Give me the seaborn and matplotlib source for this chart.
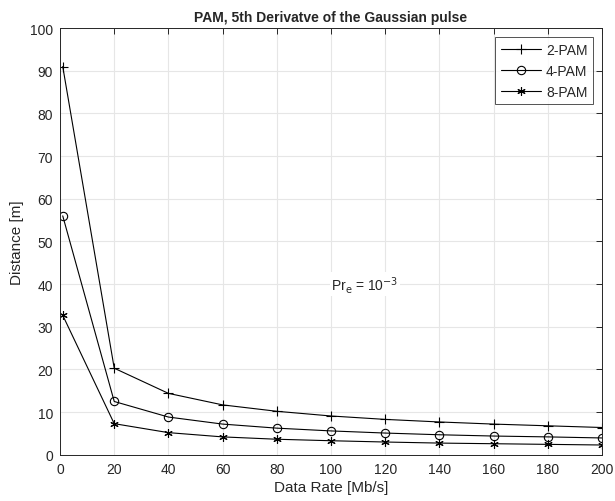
import matplotlib
matplotlib.use("Agg")
import matplotlib.pyplot as plt
import seaborn as sns
import pandas as pd

rate = [1, 20, 40, 60, 80, 100, 120, 140, 160, 180, 200]
pam2 = [91.0, 20.3, 14.4, 11.7, 10.2, 9.1, 8.3, 7.7, 7.2, 6.8, 6.4]
pam4 = [56.0, 12.5, 8.85, 7.2, 6.25, 5.6, 5.1, 4.7, 4.4, 4.2, 3.95]
pam8 = [32.7, 7.3, 5.2, 4.2, 3.65, 3.3, 3.0, 2.75, 2.6, 2.45, 2.3]
labels = ["2-PAM", "4-PAM", "8-PAM"]
xticks = list(range(0, 201, 20))
yticks = list(range(0, 101, 10))

sns.set_style("white")
plt.rcParams['font.family'] = ['Liberation Sans', 'DejaVu Sans']

fig = plt.figure(figsize=(6.15, 5.02), dpi=100)
ax = fig.add_axes([0.0976, 0.092, 0.8813, 0.850])

markers = ['+', 'o', (6, 2, 0)]
msizes = [7, 6, 6]
for vals, lab, m, ms in zip([pam2, pam4, pam8], labels, markers, msizes):
    df = pd.DataFrame({"rate": rate, "dist": vals})
    sns.lineplot(data=df, x="rate", y="dist", ax=ax, color='k', lw=0.8,
                 marker=m, markersize=ms, markerfacecolor='none',
                 markeredgecolor='k', markeredgewidth=0.8, label=lab)

ax.set_xlim(0, 200)
ax.set_ylim(0, 100)
ax.set_xticks(xticks)
ax.set_yticks(yticks)
ax.grid(True, color='#e6e6e6', lw=0.8)
ax.set_axisbelow(True)
ax.tick_params(direction='in', top=True, right=True, length=4.5, labelsize=10,
               colors='#262626', width=0.7, pad=5)
for s in ax.spines.values():
    s.set_color('#262626')
    s.set_linewidth(0.7)
ax.set_xlabel("Data Rate [Mb/s]", fontsize=11, labelpad=3, color='#262626')
ax.set_ylabel("Distance [m]", fontsize=11, labelpad=4, color='#262626')
ax.set_title("PAM, 5th Derivatve of the Gaussian pulse", fontsize=10, fontweight='bold', pad=5)

ax.text(100, 40, r"Pr$_\mathrm{e}$ = 10$^{-3}$", fontsize=10, va='center', ha='left',
        bbox=dict(facecolor='white', edgecolor='none', pad=1))

leg = ax.legend(loc='upper right', fontsize=10, frameon=True, fancybox=False,
                edgecolor='#262626', borderpad=0.4, labelspacing=0.5,
                handlelength=2.9, handletextpad=0.35, borderaxespad=0.65)
leg.get_frame().set_linewidth(0.7)

fig.savefig("out.png", dpi=100)
